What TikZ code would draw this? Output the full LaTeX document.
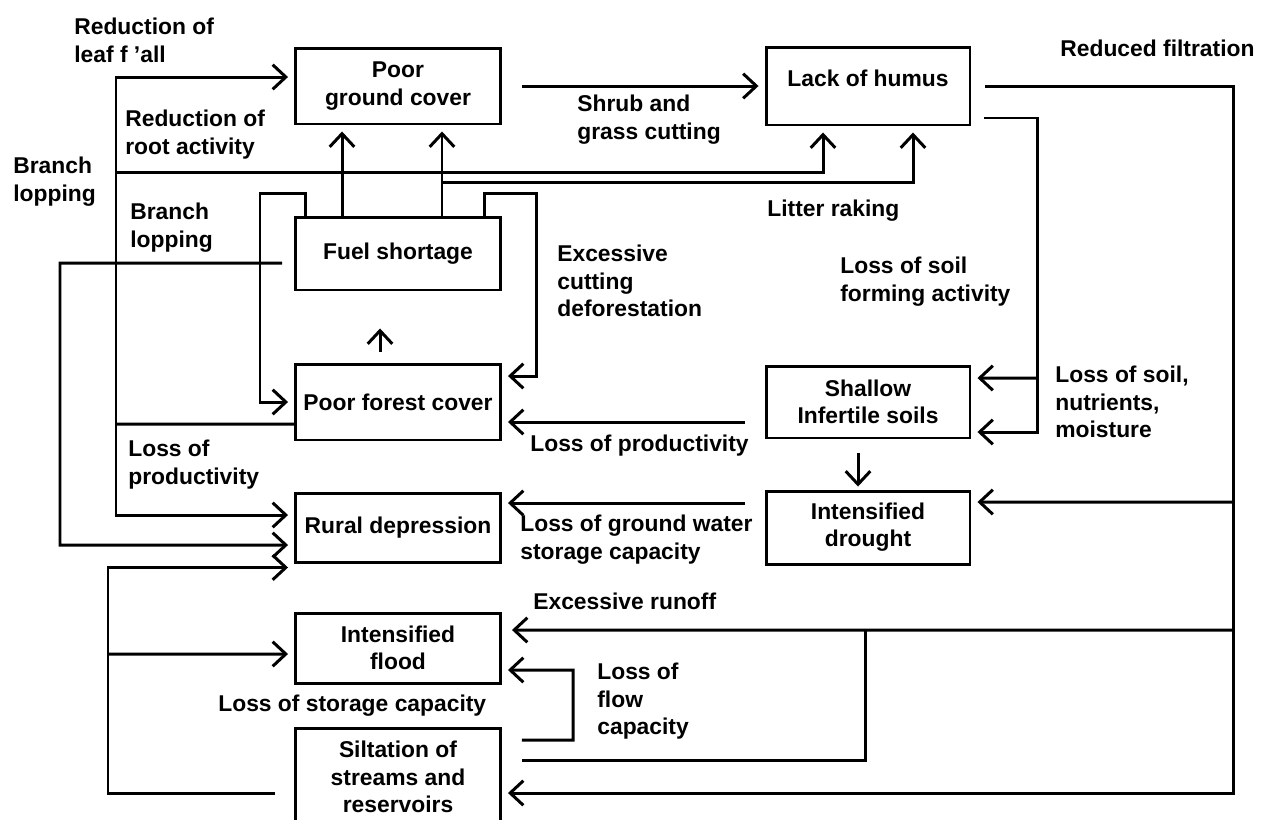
\documentclass[tikz,border=0pt]{standalone}
\usepackage{fontspec}
\setmainfont{Liberation Sans}
\usepackage{tikz}
\usetikzlibrary{arrows.meta}

\newcommand{\diagfont}{\bfseries\fontsize{13}{15.5}\selectfont}

\tikzset{
    box/.style={draw, line width=1.7pt, align=center, inner sep=2pt, minimum width=4.1cm, font=\diagfont},
    wire/.style={draw, line width=1.7pt},
    link/.style={wire, -{Straight Barb[length=7.5pt,width=14pt]}, shorten >=0.12cm},
    lbl/.style={anchor=north west, align=left, inner sep=0pt, font=\diagfont}
}

\begin{document}
\begin{tikzpicture}[x=0.02cm, y=-0.02cm]
    \useasboundingbox (0,0) rectangle (1263,819);

    \node[box, minimum height=1.52cm] (pgc) at (398,86) {Poor\\ground cover};
    \node[box, minimum width=4.08cm, minimum height=1.56cm, text depth=0.32cm] (loh) at (868,86) {Lack of humus};
    \node[box, minimum height=1.46cm] (fs) at (398,253.5) {Fuel shortage};
    \node[box, minimum height=1.52cm] (pfc) at (398,402) {Poor forest cover};
    \node[box, minimum height=1.38cm] (rd) at (398,527.5) {Rural depression};
    \node[box, minimum height=1.4cm] (ifl) at (398,648) {Intensified\\flood};
    \node[box, minimum height=1.96cm] (sil) at (398,777) {Siltation of\\streams and\\reservoirs};
    \node[box, minimum width=4.08cm, minimum height=1.44cm] (sis) at (868,402) {Shallow\\Infertile soils};
    \node[box, minimum width=4.08cm, minimum height=1.46cm] (idr) at (868,527.5) {Intensified\\drought};

    \coordinate (tr0) at (60,263);
    \coordinate (tr1) at (116,424);
    \coordinate (rr) at (116,172);
    \coordinate (bl) at (260,193);
    \coordinate (ec) at (536,193);
    \coordinate (lsf) at (1037,378);
    \coordinate (rf1) at (1233,502);
    \coordinate (rf2) at (1233,630);
    \coordinate (rj) at (865,630);
    \coordinate (lfc) at (573,740);
    \coordinate (lsc) at (108,654);

    \draw[link, shorten <=0.4cm] (pgc.east) -- (loh.west);
    \draw[link] ([xshift=-1.12cm]fs.north) -- ([xshift=-1.12cm]pgc.south);
    \draw[link] ([xshift=0.88cm]fs.north) -- ([xshift=0.88cm]pgc.south);
    \draw[link] ([xshift=0.88cm,yshift=0.66cm]fs.north) -| ([xshift=0.9cm]loh.south);
    \draw[link] (rr) -| ([xshift=-0.9cm]loh.south);

    \draw[wire] ([yshift=-0.44cm]pfc.west) -- (tr1);
    \draw[link] (tr1) |- ([yshift=0.18cm]pgc.west);
    \draw[link] (tr1) |- ([yshift=0.25cm]rd.west);

    \draw[link] ([xshift=0.23cm]fs.north west) |- (bl) |- (pfc.west);
    \draw[link] ([xshift=-0.35cm]fs.north east) |- (ec) |- ([yshift=0.52cm]pfc.east);
    \draw[link, shorten <=0.22cm, shorten >=0.74cm] ([xshift=-0.36cm]pfc.north) -- ([xshift=-0.36cm]fs.south);
    \draw[link, shorten <=0.24cm] ([yshift=-0.19cm]fs.west) -- (tr0) |- ([yshift=-0.35cm]rd.west);

    \draw[link, shorten <=0.4cm] ([yshift=-0.4cm]sis.west) -- ([yshift=-0.4cm]pfc.east);
    \draw[link, shorten <=0.4cm] ([yshift=0.49cm]idr.west) -- ([yshift=0.49cm]rd.east);
    \draw[link, shorten <=0.28cm, shorten >=0.06cm] ([xshift=-0.2cm]sis.south) -- ([xshift=-0.2cm]idr.north);

    \draw[wire, shorten <=0.26cm] ([yshift=-0.64cm]loh.east) -| (lsf);
    \draw[link] (lsf) -- ([yshift=0.48cm]sis.east);
    \draw[link] (lsf) |- ([yshift=-0.6cm]sis.east);

    \draw[wire, shorten <=0.28cm] (loh.east) -| (rf1);
    \draw[link] (rf1) -- ([yshift=0.51cm]idr.east);
    \draw[wire] (rf1) -- (rf2);
    \draw[link, shorten >=0.2cm] (rf2) -- ([yshift=0.36cm]ifl.east);
    \draw[link] (rf2) |- ([yshift=-0.32cm]sil.east);

    \draw[wire, shorten <=0.4cm] ([yshift=0.34cm]sil.east) -| (rj);
    \draw[link, shorten <=0.4cm] ([yshift=0.74cm]sil.east) -- (lfc) |- ([yshift=-0.44cm]ifl.east);
    \draw[wire, shorten <=0.38cm] ([yshift=-0.32cm]sil.west) -| (lsc);
    \draw[link] (lsc) -- ([yshift=-0.12cm]ifl.west);
    \draw[link] (lsc) |- ([yshift=-0.08cm]rd.south west);

    \node[lbl] (l1) at (74,18) {Reduction of\\leaf f 'all};
    \node[lbl] (l2) at (125,110) {Reduction of\\root activity};
    \node[lbl] (l3) at (13,157) {Branch\\lopping};
    \node[lbl] (l4) at (130,203) {Branch\\lopping};
    \node[lbl] (l5) at (577,95) {Shrub and\\grass cutting};
    \node[lbl] (l6) at (767,200) {Litter raking};
    \node[lbl] (l7) at (557,245) {Excessive\\cutting\\deforestation};
    \node[lbl] (l8) at (840,257) {Loss of soil\\forming activity};
    \node[lbl] (l9) at (1060,40) {Reduced filtration};
    \node[lbl] (l10) at (1055,366) {Loss of soil,\\nutrients,\\moisture};
    \node[lbl] (l11) at (530,435) {Loss of productivity};
    \node[lbl] (l12) at (128,440) {Loss of\\productivity};
    \node[lbl] (l13) at (520,515) {Loss of ground water\\storage capacity};
    \node[lbl] (l14) at (533,593) {Excessive runoff};
    \node[lbl] (l15) at (597,663) {Loss of\\flow\\capacity};
    \node[lbl] (l16) at (218,695) {Loss of storage capacity};
\end{tikzpicture}
\end{document}
